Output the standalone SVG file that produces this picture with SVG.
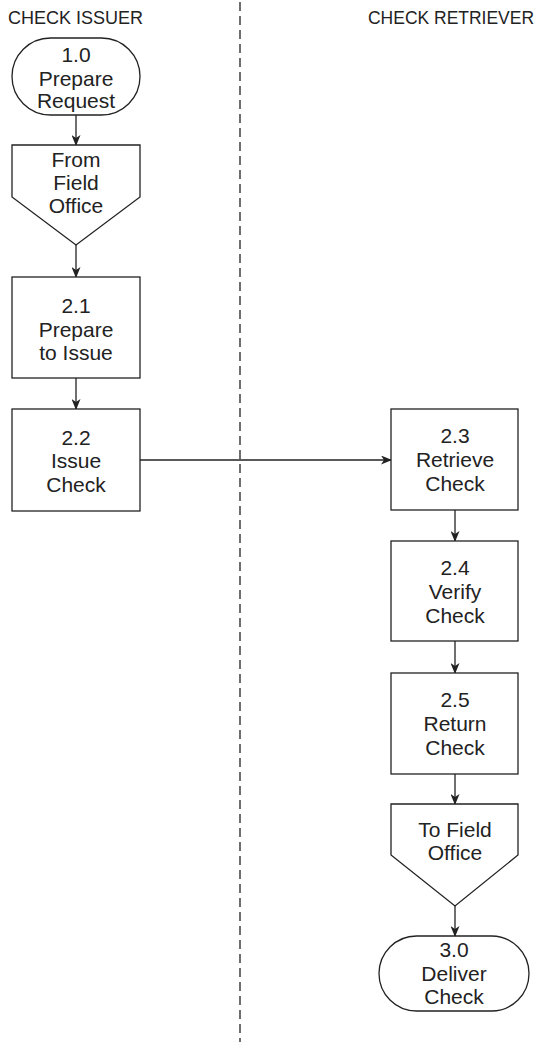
<svg xmlns="http://www.w3.org/2000/svg" width="539" height="1046" viewBox="0 0 539 1046">
<style>
.s{fill:#fff;stroke:#222;stroke-width:1.3}
.t{font-family:"Liberation Sans",Arial,sans-serif;font-size:21px;fill:#222;text-anchor:middle}
.h{font-family:"Liberation Sans",Arial,sans-serif;font-size:18px;fill:#222}
.c{stroke:#222;stroke-width:1.3;fill:none}
</style>
<defs>
<marker id="a" markerWidth="11" markerHeight="9" refX="10" refY="4.5" orient="auto" markerUnits="userSpaceOnUse">
<path d="M0,0 L11,4.5 L0,9 L3,4.5 Z" fill="#222"/>
</marker>
</defs>
<rect width="539" height="1046" fill="#fff"/>
<g id="lanes">
<line x1="240" y1="2" x2="240" y2="1042" stroke="#222" stroke-width="1.3" stroke-dasharray="9 5"/>
<text class="h" x="8" y="24">CHECK ISSUER</text>
<text class="h" x="368" y="24" textLength="166" lengthAdjust="spacingAndGlyphs">CHECK RETRIEVER</text>
</g>
<g id="connectors">
<line class="c" x1="76" y1="115" x2="76" y2="145" marker-end="url(#a)"/>
<line class="c" x1="76" y1="245" x2="76" y2="277" marker-end="url(#a)"/>
<line class="c" x1="76" y1="378" x2="76" y2="409" marker-end="url(#a)"/>
<line class="c" x1="140" y1="460" x2="391" y2="460" marker-end="url(#a)"/>
<line class="c" x1="455" y1="510" x2="455" y2="541" marker-end="url(#a)"/>
<line class="c" x1="455" y1="641" x2="455" y2="673" marker-end="url(#a)"/>
<line class="c" x1="455" y1="774" x2="455" y2="804" marker-end="url(#a)"/>
<line class="c" x1="455" y1="906" x2="455" y2="936" marker-end="url(#a)"/>
</g>
<g id="n10">
<rect class="s" x="12" y="38" width="128" height="77" rx="38.5"/>
<text class="t" x="76" y="62">1.0</text>
<text class="t" x="76" y="86">Prepare</text>
<text class="t" x="76" y="108">Request</text>
</g>
<g id="from">
<path class="s" d="M12,145 H140 V197 L76,245 L12,197 Z"/>
<text class="t" x="76" y="167">From</text>
<text class="t" x="76" y="190">Field</text>
<text class="t" x="76" y="213">Office</text>
</g>
<g id="n21">
<rect class="s" x="12" y="277" width="128" height="101"/>
<text class="t" x="76" y="313">2.1</text>
<text class="t" x="76" y="337">Prepare</text>
<text class="t" x="76" y="360">to Issue</text>
</g>
<g id="n22">
<rect class="s" x="12" y="409" width="128" height="102"/>
<text class="t" x="76" y="445">2.2</text>
<text class="t" x="76" y="468">Issue</text>
<text class="t" x="76" y="492">Check</text>
</g>
<g id="n23">
<rect class="s" x="391" y="409" width="127" height="101"/>
<text class="t" x="455" y="443">2.3</text>
<text class="t" x="455" y="467">Retrieve</text>
<text class="t" x="455" y="491">Check</text>
</g>
<g id="n24">
<rect class="s" x="391" y="541" width="127" height="100"/>
<text class="t" x="455" y="575">2.4</text>
<text class="t" x="455" y="599">Verify</text>
<text class="t" x="455" y="623">Check</text>
</g>
<g id="n25">
<rect class="s" x="391" y="673" width="127" height="101"/>
<text class="t" x="455" y="707">2.5</text>
<text class="t" x="455" y="731">Return</text>
<text class="t" x="455" y="755">Check</text>
</g>
<g id="to">
<path class="s" d="M391,804 H518 V855 L455,906 L391,855 Z"/>
<text class="t" x="455" y="837">To Field</text>
<text class="t" x="455" y="860">Office</text>
</g>
<g id="n30">
<rect class="s" x="379" y="936" width="150" height="75" rx="37.5"/>
<text class="t" x="454" y="957">3.0</text>
<text class="t" x="454" y="981">Deliver</text>
<text class="t" x="454" y="1004">Check</text>
</g>
</svg>
